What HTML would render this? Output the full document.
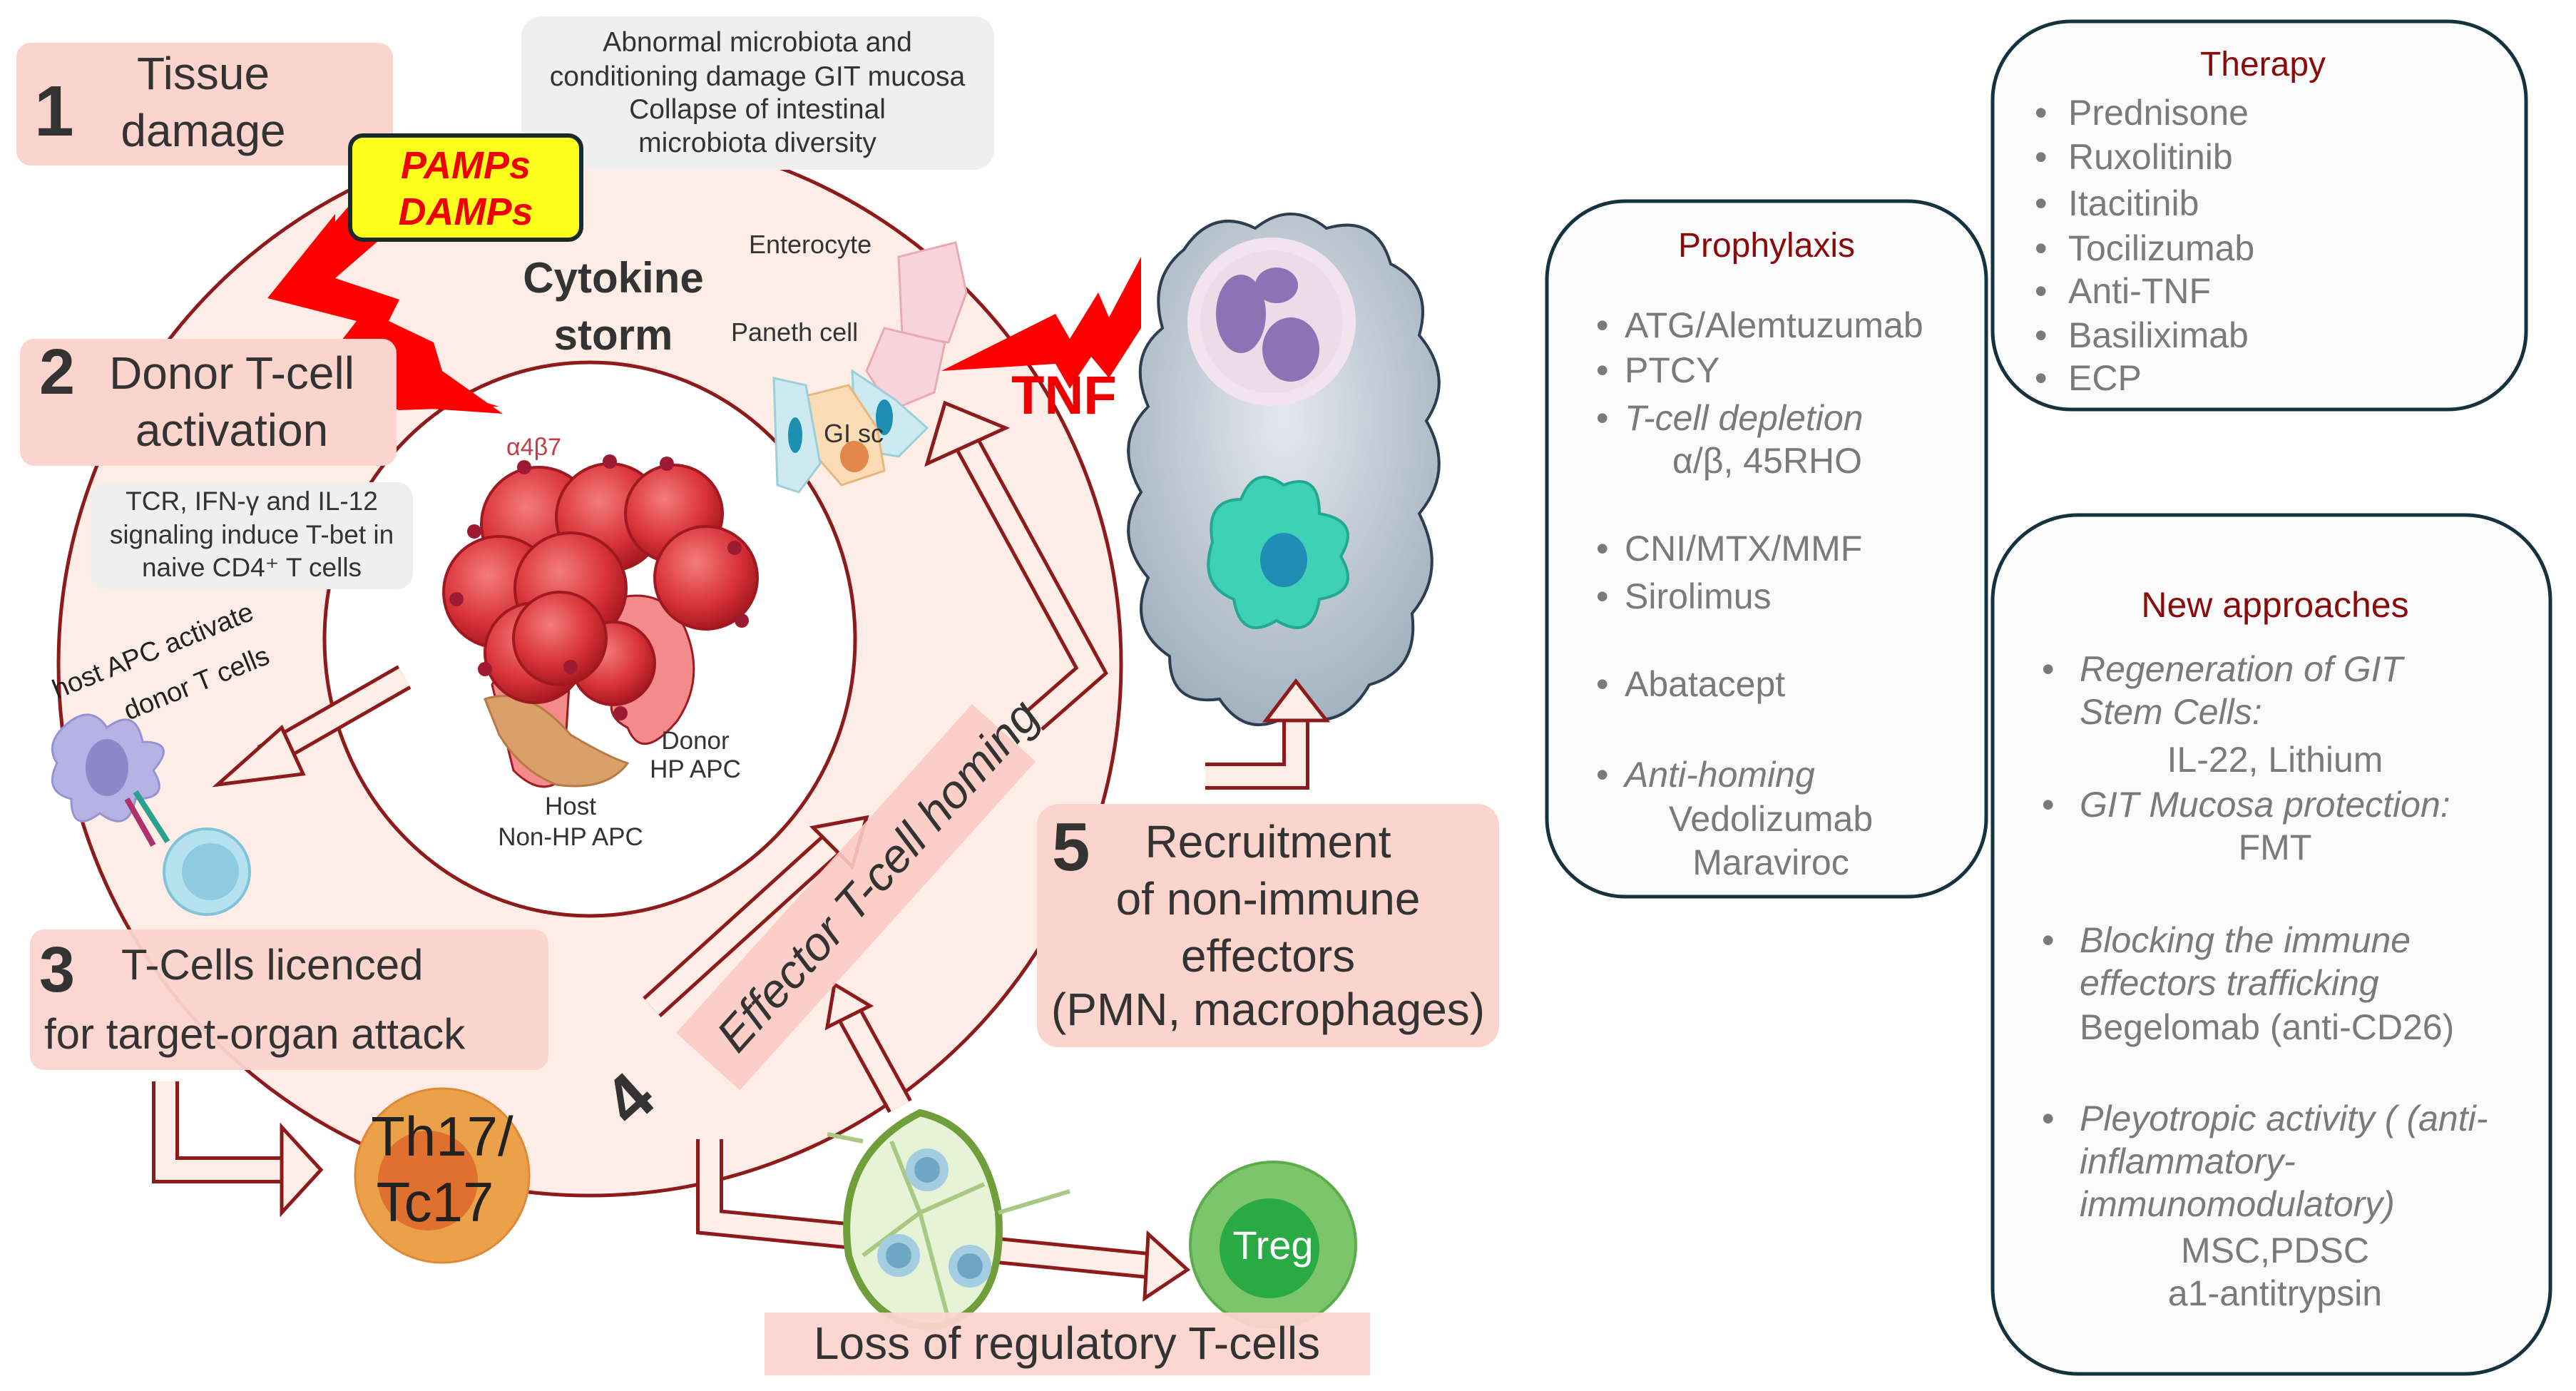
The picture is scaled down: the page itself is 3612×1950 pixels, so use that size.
<!DOCTYPE html>
<html><head><meta charset="utf-8"><style>
html,body{margin:0;padding:0;background:#fff;}
svg{display:block;}
text{font-family:"Liberation Sans","DejaVu Sans",sans-serif;}
</style></head><body>
<svg width="3612" height="1950" viewBox="0 0 3612 1950" xmlns="http://www.w3.org/2000/svg">
<defs>
<radialGradient id="rc" cx="0.4" cy="0.35" r="0.7"><stop offset="0" stop-color="#f47c7c"/><stop offset="0.6" stop-color="#d9333a"/><stop offset="1" stop-color="#a0141c"/></radialGradient>
<radialGradient id="cl" cx="0.5" cy="0.4" r="0.7"><stop offset="0" stop-color="#e4e9ef"/><stop offset="1" stop-color="#9aa9b8"/></radialGradient>
</defs>

<circle cx="827" cy="931" r="745" fill="#fdede6" stroke="#8e1b1b" stroke-width="5"/>
<ellipse cx="827" cy="896" rx="372" ry="388" fill="#fff" stroke="#8e1b1b" stroke-width="5"/>

<g fill="url(#cl)" stroke="#2c3e50" stroke-width="4">
<path d="M1660,350 Q1700,290 1760,320 Q1810,280 1860,320 Q1930,300 1950,370 Q2010,400 1990,470 Q2040,530 2000,590 Q2040,660 1990,720 Q2030,800 1980,860 Q1990,940 1920,960 Q1880,1030 1810,1000 Q1750,1040 1710,980 Q1640,990 1640,920 Q1580,880 1610,810 Q1560,750 1600,690 Q1560,620 1610,570 Q1580,500 1630,460 Q1610,390 1660,350 Z"/>
</g>
<circle cx="1783" cy="451" r="118" fill="#f3e3ee"/>
<circle cx="1783" cy="451" r="100" fill="#efdbe8"/>
<ellipse cx="1740" cy="440" rx="35" ry="55" fill="#8f72b5"/>
<ellipse cx="1810" cy="490" rx="40" ry="45" fill="#8f72b5"/>
<ellipse cx="1790" cy="400" rx="30" ry="25" fill="#8f72b5"/>
<path d="M1700,760 Q1690,700 1740,700 Q1760,650 1800,680 Q1850,660 1850,720 Q1910,730 1880,780 Q1910,830 1850,840 Q1840,900 1790,870 Q1740,900 1730,840 Q1680,820 1700,760 Z" fill="#3fd1b6" stroke="#23a892" stroke-width="4"/>
<ellipse cx="1800" cy="785" rx="33" ry="38" fill="#1f8db5"/>

<rect x="731" y="23" width="663" height="215" rx="28" fill="#efefef"/>
<g font-size="39" fill="#333" text-anchor="middle">
<text x="1062" y="72">Abnormal microbiota and</text>
<text x="1062" y="120">conditioning damage GIT mucosa</text>
<text x="1062" y="166">Collapse of intestinal</text>
<text x="1062" y="213">microbiota diversity</text>
</g>

<rect x="23" y="60" width="528" height="172" rx="20" fill="#fcd4ce"/>
<text x="48" y="190" font-size="100" font-weight="bold" fill="#333">1</text>
<text x="285" y="125" font-size="64" fill="#333" text-anchor="middle">Tissue</text>
<text x="285" y="205" font-size="64" fill="#333" text-anchor="middle">damage</text>

<polygon points="488,290 380,415 500,450 430,540 560,570 705,580 620,520 608,480 545,450 560,420 470,390 545,325" fill="#f00"/>
<polygon points="470,300 375,418 500,450 435,540 560,575 700,570 600,540 520,470 560,420 470,395" fill="#f00"/>

<rect x="491" y="190" width="324" height="146" rx="18" fill="#ffff1e" stroke="#1a2a2a" stroke-width="6"/>
<text x="653" y="250" font-size="54" font-weight="bold" font-style="italic" fill="#e00" text-anchor="middle">PAMPs</text>
<text x="653" y="315" font-size="54" font-weight="bold" font-style="italic" fill="#e00" text-anchor="middle">DAMPs</text>

<text x="860" y="410" font-size="60" font-weight="bold" fill="#333" text-anchor="middle">Cytokine</text>
<text x="860" y="490" font-size="60" font-weight="bold" fill="#333" text-anchor="middle">storm</text>

<text x="1050" y="355" font-size="36" fill="#333">Enterocyte</text>
<text x="1025" y="478" font-size="36" fill="#333">Paneth cell</text>
<path d="M1260,360 L1340,340 L1355,410 L1330,480 L1265,470 Z" fill="#f8d4da" stroke="#e8aab5" stroke-width="3"/>
<path d="M1240,460 L1325,480 L1310,550 L1250,575 L1215,520 Z" fill="#f8d4da" stroke="#e8aab5" stroke-width="3"/>
<path d="M1195,520 L1255,560 L1300,600 L1260,640 L1200,630 Z" fill="#cdeaf0" stroke="#9ccfd9" stroke-width="3"/>
<path d="M1130,555 L1190,540 L1230,600 L1240,660 L1180,680 L1145,640 Z" fill="#fbdcb4" stroke="#e6b880" stroke-width="3"/>
<path d="M1085,530 L1130,540 L1150,650 L1120,690 L1090,680 Z" fill="#cdeaf0" stroke="#9ccfd9" stroke-width="3"/>
<ellipse cx="1240" cy="585" rx="12" ry="25" fill="#1d8fb0"/>
<ellipse cx="1198" cy="640" rx="20" ry="22" fill="#e3874a"/>
<ellipse cx="1115" cy="610" rx="10" ry="25" fill="#1d8fb0"/>
<text x="1155" y="620" font-size="36" fill="#333">GI sc</text>

<polygon points="1600,360 1555,445 1540,410 1500,475 1480,440 1320,520 1480,510 1500,545 1530,500 1555,530 1600,460" fill="#f00"/>
<text x="1418" y="580" font-size="76" font-weight="bold" fill="#e00">TNF</text>

<rect x="28" y="475" width="528" height="178" rx="20" fill="#fcd4ce"/>
<text x="55" y="552" font-size="90" font-weight="bold" fill="#333">2</text>
<text x="325" y="545" font-size="64" fill="#333" text-anchor="middle">Donor T-cell</text>
<text x="325" y="625" font-size="64" fill="#333" text-anchor="middle">activation</text>

<rect x="127" y="676" width="452" height="150" rx="22" fill="#efefef"/>
<g font-size="37" fill="#333" text-anchor="middle">
<text x="353" y="715">TCR, IFN-γ and IL-12</text>
<text x="353" y="762">signaling induce T-bet in</text>
<text x="353" y="808">naive CD4⁺ T cells</text>
</g>

<g stroke="#a01820" stroke-width="3">
<path d="M860,840 Q930,820 960,880 Q990,950 950,1010 Q900,1070 880,1020 Q840,1000 870,960 Q860,900 860,840 Z" fill="#f48b8b"/>
<path d="M690,960 Q720,900 800,930 L790,1090 Q760,1120 720,1080 Z" fill="#f48b8b"/>
</g>
<path d="M680,980 Q740,960 800,1030 Q850,1060 880,1070 Q850,1110 780,1100 Q730,1080 700,1030 Z" fill="#dba06a" stroke="#b57a45" stroke-width="3"/>
<g fill="url(#rc)" stroke="#a01820" stroke-width="4">
<circle cx="755" cy="735" r="80"/><circle cx="855" cy="725" r="75"/><circle cx="945" cy="720" r="68"/>
<circle cx="700" cy="830" r="78"/><circle cx="800" cy="825" r="78"/><circle cx="990" cy="810" r="72"/>
<circle cx="750" cy="915" r="70"/><circle cx="860" cy="930" r="58"/>
<circle cx="785" cy="895" r="65"/>
</g>
<g fill="#9e1a33">
<circle cx="735" cy="655" r="10"/><circle cx="855" cy="647" r="10"/><circle cx="935" cy="650" r="10"/><circle cx="665" cy="745" r="10"/><circle cx="1030" cy="768" r="10"/><circle cx="640" cy="840" r="10"/><circle cx="1040" cy="870" r="10"/><circle cx="680" cy="938" r="10"/><circle cx="870" cy="1000" r="10"/><circle cx="800" cy="935" r="10"/>
</g>
<text x="710" y="638" font-size="34" fill="#c0404a">α4β7</text>
<text x="975" y="1050" font-size="35" fill="#333" text-anchor="middle">Donor</text>
<text x="975" y="1090" font-size="35" fill="#333" text-anchor="middle">HP APC</text>
<text x="800" y="1142" font-size="35" fill="#333" text-anchor="middle">Host</text>
<text x="800" y="1185" font-size="35" fill="#333" text-anchor="middle">Non-HP APC</text>

<text x="80" y="980" font-size="38" fill="#222" transform="rotate(-22 80 980)">host APC activate</text>
<text x="180" y="1010" font-size="38" fill="#222" transform="rotate(-22 180 1010)">donor T cells</text>
<path d="M100,1010 Q130,990 150,1020 Q190,990 200,1040 Q250,1040 215,1080 Q240,1120 190,1120 Q180,1170 140,1140 Q100,1170 100,1120 Q60,1110 80,1070 Q60,1040 100,1010 Z" fill="#b7b2e6" stroke="#9893d0" stroke-width="3"/>
<ellipse cx="150" cy="1076" rx="30" ry="40" fill="#8e86c8"/>
<line x1="190" y1="1110" x2="235" y2="1180" stroke="#2aa08e" stroke-width="8"/>
<line x1="178" y1="1120" x2="215" y2="1185" stroke="#b0306a" stroke-width="8"/>
<circle cx="290" cy="1222" r="60" fill="#b6e2ef" stroke="#80c4da" stroke-width="4"/>
<circle cx="295" cy="1222" r="40" fill="#8fcbe0"/>

<g fill="none" stroke-linejoin="miter">
<g stroke="#8e1b1b" stroke-width="38">
<polyline points="567,949 370,1062"/>
<polyline points="1450,1010 1530,940 1355,620"/>
<polyline points="232,1516 232,1640 400,1640"/>
<polyline points="914,1412 1170,1180"/>
<polyline points="1262,1551 1190,1420"/>
<polyline points="995,1597 995,1713 1620,1775"/>
<polyline points="1690,1088 1817,1088 1817,1000"/>
</g>
<g stroke="#fdeee8" stroke-width="28">
<polyline points="567,949 370,1062"/>
<polyline points="1450,1010 1530,940 1355,620"/>
<polyline points="232,1516 232,1640 400,1640"/>
<polyline points="914,1412 1170,1180"/>
<polyline points="1262,1551 1190,1420"/>
<polyline points="995,1597 995,1713 1620,1775"/>
<polyline points="1690,1088 1817,1088 1817,1000"/>
</g>
</g>
<g fill="#fdeee8" stroke="#8e1b1b" stroke-width="5" stroke-linejoin="miter">
<polygon points="305,1100 395,1020 425,1085"/>
<polygon points="1325,565 1300,650 1410,600"/>
<polygon points="450,1640 395,1580 395,1700"/>
<polygon points="1215,1146 1140,1160 1195,1215"/>
<polygon points="1170,1380 1160,1440 1220,1410"/>
<polygon points="1665,1780 1610,1730 1605,1820"/>
<polygon points="1817,955 1775,1010 1860,1010"/>
</g>

<rect x="42" y="1303" width="727" height="197" rx="20" fill="#fcd4ce" opacity="0.95"/>
<text x="55" y="1390" font-size="90" font-weight="bold" fill="#333">3</text>
<text x="170" y="1373" font-size="60" fill="#333">T-Cells licenced</text>
<text x="62" y="1470" font-size="60" fill="#333">for target-organ attack</text>

<g transform="rotate(-48 1180 1280)">
<rect x="900" y="1220" width="620" height="120" fill="#fbcac4" opacity="0.9"/>
<text x="935" y="1305" font-size="66" font-style="italic" fill="#333">Effector T-cell homing</text>
</g>
<text x="850" y="1565" font-size="96" font-weight="bold" fill="#333" transform="rotate(-42 890 1530)">4</text>

<rect x="1454" y="1127" width="648" height="341" rx="30" fill="#fcd4ce"/>
<text x="1475" y="1220" font-size="96" font-weight="bold" fill="#333">5</text>
<g font-size="64" fill="#333" text-anchor="middle">
<text x="1778" y="1202">Recruitment</text>
<text x="1778" y="1282">of non-immune</text>
<text x="1778" y="1362">effectors</text>
<text x="1778" y="1437">(PMN, macrophages)</text>
</g>

<circle cx="620" cy="1648" r="122" fill="#eba04a" stroke="#e08a35" stroke-width="3"/>
<circle cx="600" cy="1655" r="70" fill="#e07030"/>
<text x="620" y="1620" font-size="78" fill="#222" text-anchor="middle">Th17/</text>
<text x="610" y="1712" font-size="78" fill="#222" text-anchor="middle">Tc17</text>

<path d="M1290,1560 Q1380,1580 1400,1700 Q1410,1840 1310,1860 Q1220,1860 1190,1760 Q1170,1620 1290,1560 Z" fill="#e6f3d7" stroke="#6f9e3a" stroke-width="10"/>
<g stroke="#a8c884" stroke-width="6" fill="none"><path d="M1290,1700 L1250,1600 M1290,1700 L1380,1660 M1290,1700 L1210,1760 M1290,1700 L1330,1850 M1400,1700 L1500,1670 M1210,1600 L1160,1590"/></g>
<circle cx="1300" cy="1640" r="30" fill="#a5cde2"/><circle cx="1300" cy="1640" r="18" fill="#6fa6c4"/>
<circle cx="1260" cy="1760" r="30" fill="#a5cde2"/><circle cx="1260" cy="1760" r="18" fill="#6fa6c4"/>
<circle cx="1360" cy="1775" r="30" fill="#a5cde2"/><circle cx="1360" cy="1775" r="18" fill="#6fa6c4"/>

<circle cx="1785" cy="1745" r="116" fill="#7cc56a" stroke="#5aad4a" stroke-width="4"/>
<circle cx="1780" cy="1750" r="70" fill="#2aaa44"/>
<text x="1785" y="1765" font-size="56" fill="#fff" text-anchor="middle">Treg</text>

<rect x="1072" y="1840" width="849" height="88" fill="#fcd4ce" opacity="0.95"/>
<text x="1496" y="1905" font-size="64" fill="#333" text-anchor="middle">Loss of regulatory T-cells</text>

<g transform="translate(-12,0)">
<g fill="#fbfbfb" stroke="#16323f" stroke-width="5">
<rect x="2181" y="282" width="616" height="975" rx="110"/>
<rect x="2806" y="30" width="748" height="544" rx="110"/>
<rect x="2806" y="722" width="782" height="1204" rx="120"/>
</g>
<g font-size="50" fill="#7a7a7a">
<text x="2489" y="360" font-size="48" fill="#8b0a0a" text-anchor="middle">Prophylaxis</text>
<text x="2250" y="473">•</text><text x="2290" y="473">ATG/Alemtuzumab</text>
<text x="2250" y="536">•</text><text x="2290" y="536">PTCY</text>
<text x="2250" y="603">•</text><text x="2290" y="603" font-style="italic">T-cell depletion</text>
<text x="2490" y="663" text-anchor="middle">α/β, 45RHO</text>
<text x="2250" y="786">•</text><text x="2290" y="786">CNI/MTX/MMF</text>
<text x="2250" y="853">•</text><text x="2290" y="853">Sirolimus</text>
<text x="2250" y="976">•</text><text x="2290" y="976">Abatacept</text>
<text x="2250" y="1103">•</text><text x="2290" y="1103" font-style="italic">Anti-homing</text>
<text x="2495" y="1165" text-anchor="middle">Vedolizumab</text>
<text x="2495" y="1226" text-anchor="middle">Maraviroc</text>

<text x="3185" y="106" font-size="48" fill="#8b0a0a" text-anchor="middle">Therapy</text>
<text x="2865" y="175">•</text><text x="2912" y="175">Prednisone</text>
<text x="2865" y="237">•</text><text x="2912" y="237">Ruxolitinib</text>
<text x="2865" y="302">•</text><text x="2912" y="302">Itacitinib</text>
<text x="2865" y="365">•</text><text x="2912" y="365">Tocilizumab</text>
<text x="2865" y="425">•</text><text x="2912" y="425">Anti-TNF</text>
<text x="2865" y="487">•</text><text x="2912" y="487">Basiliximab</text>
<text x="2865" y="547">•</text><text x="2912" y="547">ECP</text>

<text x="3202" y="865" font-size="50" fill="#8b0a0a" text-anchor="middle">New approaches</text>
<text x="2875" y="955">•</text><text x="2928" y="955" font-style="italic">Regeneration of GIT</text>
<text x="2928" y="1015" font-style="italic">Stem Cells:</text>
<text x="3202" y="1082" text-anchor="middle">IL-22, Lithium</text>
<text x="2875" y="1145">•</text><text x="2928" y="1145" font-style="italic">GIT Mucosa protection:</text>
<text x="3202" y="1205" text-anchor="middle">FMT</text>
<text x="2875" y="1335">•</text><text x="2928" y="1335" font-style="italic">Blocking the immune</text>
<text x="2928" y="1395" font-style="italic">effectors trafficking</text>
<text x="2928" y="1457">Begelomab (anti-CD26)</text>
<text x="2875" y="1585">•</text><text x="2928" y="1585" font-style="italic">Pleyotropic activity ( (anti-</text>
<text x="2928" y="1645" font-style="italic">inflammatory-</text>
<text x="2928" y="1705" font-style="italic">immunomodulatory)</text>
<text x="3202" y="1770" text-anchor="middle">MSC,PDSC</text>
<text x="3202" y="1830" text-anchor="middle">a1-antitrypsin</text>
</g>
</g>
</svg>
</body></html>
